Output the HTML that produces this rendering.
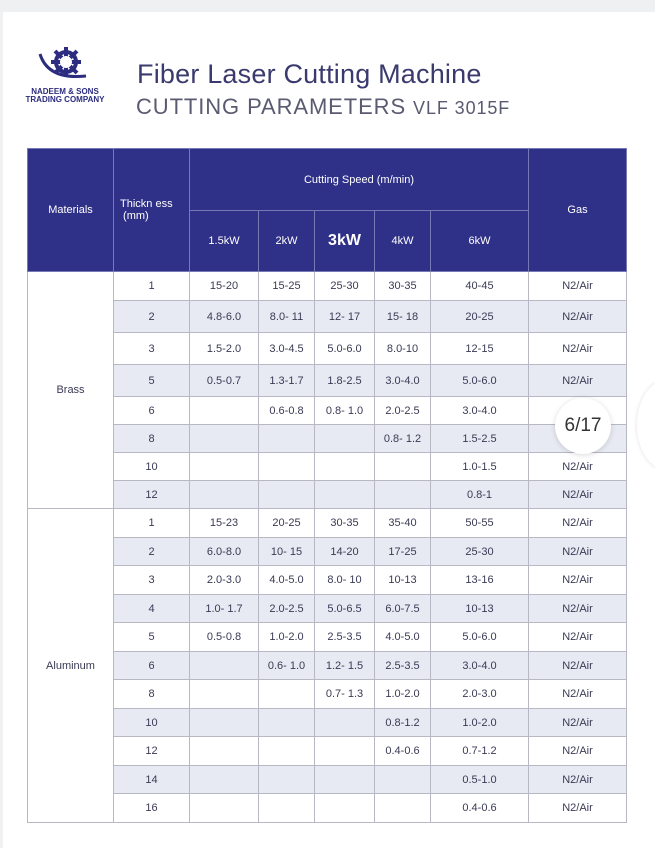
<!DOCTYPE html><html><head><style>
body{margin:0;width:655px;height:848px;background:#fff;position:relative;overflow:hidden;font-family:"Liberation Sans",sans-serif}
.top{position:absolute;left:0;top:0;width:655px;height:12px;background:#eef0f2}
.side{position:absolute;left:0;top:12px;width:3px;height:836px;background:#f0f1f3}
.t1{position:absolute;left:137px;top:59px;font-size:27px;color:#3a3a6e;letter-spacing:0.2px}
.t2{position:absolute;left:136px;top:94px;font-size:22px;color:#5a5a70;letter-spacing:0.9px}
.t2 span{font-size:18px}
.logo{position:absolute;left:17px;top:88px;font-size:8px;font-weight:bold;color:#2c2c80;line-height:8px;text-align:center;width:96px}
table{position:absolute;left:27px;top:148px;border-collapse:collapse;font-size:11px;color:#3a3a55}
td{border:1px solid #b8b8c4;text-align:center;padding:0}
.h td{background:#2f3087;color:#fff;border-color:#7779b4;font-size:11px}
.s td{background:#e7eaf2}
.s td.m{background:#fff}
</style></head><body>
<div class="top"></div><div class="side"></div>
<svg style="position:absolute;left:36px;top:44px" width="60" height="42" viewBox="0 0 60 42">
<g fill="none" stroke="#2c2c80" stroke-width="4"><circle cx="30" cy="18" r="10"/></g>
<g stroke="#2c2c80" stroke-width="4"><line x1="30" y1="3" x2="30" y2="33"/><line x1="15" y1="18" x2="45" y2="18"/><line x1="19" y1="7" x2="41" y2="29"/><line x1="41" y1="7" x2="19" y2="29"/></g>
<circle cx="30" cy="18" r="6" fill="#fff"/>
<path d="M4 10 Q12 36 50 32" stroke="#2c2c80" stroke-width="3" fill="none"/>
</svg>
<div class="logo">NADEEM &amp; SONS<br>TRADING COMPANY</div>
<div class="t1">Fiber Laser Cutting Machine</div>
<div class="t2">CUTTING PARAMETERS <span>VLF 3015F</span></div>
<table>
<colgroup><col style="width:86px"><col style="width:76px"><col style="width:69px"><col style="width:56px"><col style="width:60px"><col style="width:56px"><col style="width:98px"><col style="width:98px"></colgroup>
<tr class="h" style="height:62px"><td rowspan="2">Materials</td><td rowspan="2" style="text-align:left;padding-left:6px">Thickn ess<br>&nbsp;(mm)</td><td colspan="5">Cutting Speed (m/min)</td><td rowspan="2">Gas</td></tr>
<tr class="h" style="height:61px"><td>1.5kW</td><td>2kW</td><td style="font-size:16px;font-weight:bold">3kW</td><td>4kW</td><td>6kW</td></tr>
<tr style="height:29px"><td rowspan="8" class="m">Brass</td><td>1</td><td>15-20</td><td>15-25</td><td>25-30</td><td>30-35</td><td>40-45</td><td>N2/Air</td></tr>
<tr class="s" style="height:32px"><td>2</td><td>4.8-6.0</td><td>8.0- 11</td><td>12- 17</td><td>15- 18</td><td>20-25</td><td>N2/Air</td></tr>
<tr style="height:32px"><td>3</td><td>1.5-2.0</td><td>3.0-4.5</td><td>5.0-6.0</td><td>8.0-10</td><td>12-15</td><td>N2/Air</td></tr>
<tr class="s" style="height:32px"><td>5</td><td>0.5-0.7</td><td>1.3-1.7</td><td>1.8-2.5</td><td>3.0-4.0</td><td>5.0-6.0</td><td>N2/Air</td></tr>
<tr style="height:28px"><td>6</td><td></td><td>0.6-0.8</td><td>0.8- 1.0</td><td>2.0-2.5</td><td>3.0-4.0</td><td></td></tr>
<tr class="s" style="height:28px"><td>8</td><td></td><td></td><td></td><td>0.8- 1.2</td><td>1.5-2.5</td><td></td></tr>
<tr style="height:28px"><td>10</td><td></td><td></td><td></td><td></td><td>1.0-1.5</td><td>N2/Air</td></tr>
<tr class="s" style="height:28px"><td>12</td><td></td><td></td><td></td><td></td><td>0.8-1</td><td>N2/Air</td></tr>
<tr style="height:29px"><td rowspan="11" class="m">Aluminum</td><td>1</td><td>15-23</td><td>20-25</td><td>30-35</td><td>35-40</td><td>50-55</td><td>N2/Air</td></tr>
<tr class="s" style="height:28px"><td>2</td><td>6.0-8.0</td><td>10- 15</td><td>14-20</td><td>17-25</td><td>25-30</td><td>N2/Air</td></tr>
<tr style="height:29px"><td>3</td><td>2.0-3.0</td><td>4.0-5.0</td><td>8.0- 10</td><td>10-13</td><td>13-16</td><td>N2/Air</td></tr>
<tr class="s" style="height:28px"><td>4</td><td>1.0- 1.7</td><td>2.0-2.5</td><td>5.0-6.5</td><td>6.0-7.5</td><td>10-13</td><td>N2/Air</td></tr>
<tr style="height:29px"><td>5</td><td>0.5-0.8</td><td>1.0-2.0</td><td>2.5-3.5</td><td>4.0-5.0</td><td>5.0-6.0</td><td>N2/Air</td></tr>
<tr class="s" style="height:28px"><td>6</td><td></td><td>0.6- 1.0</td><td>1.2- 1.5</td><td>2.5-3.5</td><td>3.0-4.0</td><td>N2/Air</td></tr>
<tr style="height:29px"><td>8</td><td></td><td></td><td>0.7- 1.3</td><td>1.0-2.0</td><td>2.0-3.0</td><td>N2/Air</td></tr>
<tr class="s" style="height:28px"><td>10</td><td></td><td></td><td></td><td>0.8-1.2</td><td>1.0-2.0</td><td>N2/Air</td></tr>
<tr style="height:29px"><td>12</td><td></td><td></td><td></td><td>0.4-0.6</td><td>0.7-1.2</td><td>N2/Air</td></tr>
<tr class="s" style="height:28px"><td>14</td><td></td><td></td><td></td><td></td><td>0.5-1.0</td><td>N2/Air</td></tr>
<tr style="height:29px"><td>16</td><td></td><td></td><td></td><td></td><td>0.4-0.6</td><td>N2/Air</td></tr>
</table>
<div style="position:absolute;top:398px;width:56px;height:56px;border-radius:50%;background:#fff;box-shadow:0 1px 6px rgba(0,0,0,.15);left:555px;text-align:center;line-height:56px;font-size:19px;color:#333">6/17</div>
<div style="position:absolute;left:637px;top:380px;width:60px;height:90px;border-radius:50%;background:#fff;box-shadow:0 0 4px rgba(0,0,0,.12)"></div>
</body></html>
